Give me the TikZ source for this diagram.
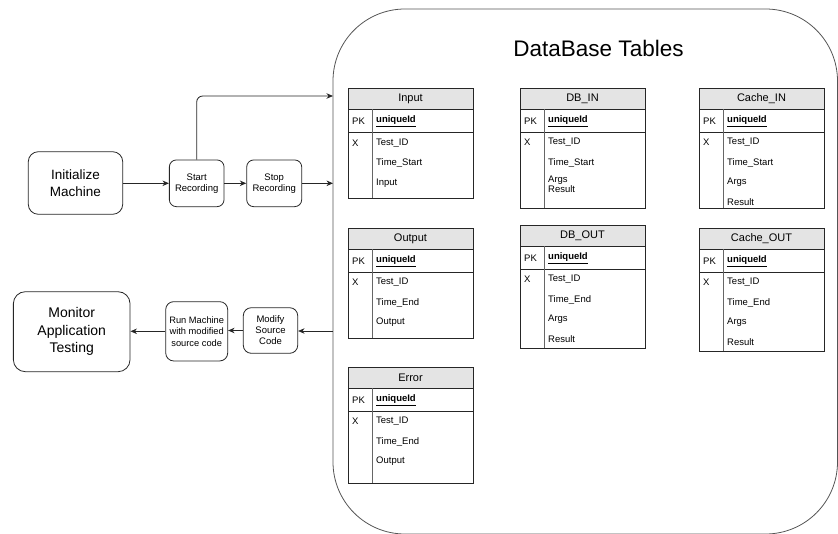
\documentclass[tikz,border=0pt]{standalone}
\usepackage{fontspec}
\setmainfont{Liberation Sans}
\usetikzlibrary{arrows.meta}
\definecolor{hdr}{HTML}{E4E4E4}
\definecolor{frm}{HTML}{555555}
\tikzset{
  proc/.style={draw=black!85, line width=0.8pt, align=center, inner sep=0pt},
  arr/.style={draw=black!85, line width=0.8pt, -{Stealth[length=6.5pt,width=5.5pt]}},
  tline/.style={draw=black!85, line width=0.8pt},
  txt/.style={inner sep=0pt, anchor=west, font=\fontsize{9.5}{10.5}\selectfont},
}
\newcommand\dbtab[6]{%
  \fill[hdr] (#3,#4) rectangle ++(125,21);
  \draw[tline] (#3,#4) rectangle ++(125,#5);
  \draw[tline] (#3,#4+21) -- ++(125,0);
  \draw[tline] (#3,#4+44.5) -- ++(125,0);
  \draw[draw=black!60, line width=0.8pt] (#3+24,#4+21) -- (#3+24,#4+#5);
  \node[inner sep=0pt, font=\fontsize{11}{12}\selectfont] (#1-t) at (#3+62.5,#4+11) {#2};
  \node[txt] (#1-pk) at (#3+4,#4+33) {PK};
  \node[txt] (#1-u) at (#3+28,#4+33) {\underline{\textbf{uniqueId}}};
  \node[txt] (#1-x) at (#3+4,#4+54.5) {X};
  \foreach \f [count=\i from 0] in {#6} {
    \node[txt] (#1-f\i) at (#3+28,#4+54.5+20*\i) {\f};
  }%
}
\begin{document}
\begin{tikzpicture}[x=1pt,y=-1pt]
\useasboundingbox (0,0) rectangle (838,533);

% big database frame
\node[draw=frm, line width=0.8pt, rounded corners=72pt, minimum width=504.5pt, minimum height=525pt, inner sep=0pt] (db) at (585.25,271.5) {};
\node[inner sep=0pt, font=\fontsize{22.5}{26}\selectfont] (title) at (598.5,48) {DataBase Tables};

% left flow
\node[proc, rounded corners=10pt, minimum width=94.4pt, minimum height=62.6pt, font=\fontsize{13.5}{17}\selectfont] (init) at (75.5,183) {Initialize\\Machine};
\node[proc, rounded corners=7pt, minimum width=54.7pt, minimum height=46.7pt, font=\fontsize{9.5}{11}\selectfont] (start) at (196.7,183.3) {Start\\Recording};
\node[proc, rounded corners=7pt, minimum width=55pt, minimum height=46.7pt, font=\fontsize{9.5}{11}\selectfont] (stop) at (274.2,183.3) {Stop\\Recording};
\node[proc, rounded corners=12pt, minimum width=116.7pt, minimum height=80pt, font=\fontsize{14}{17.5}\selectfont] (monitor) at (71.7,331.7) {Monitor\\Application\\Testing};
\node[proc, rounded corners=8pt, minimum width=62pt, minimum height=59.3pt, font=\fontsize{9.3}{11.5}\selectfont] (run) at (196.7,331.3) {Run Machine\\with modified\\source code};
\node[proc, rounded corners=8pt, minimum width=54.4pt, minimum height=45.6pt, font=\fontsize{9.5}{11}\selectfont] (modify) at (270.5,330.5) {Modify\\Source\\Code};

\coordinate (dbtop) at (333,96);
\coordinate (dbmid) at (333,183.3);
\coordinate (dbout) at (333,331);

\draw[arr] (init.east |- start.west) -- (start.west);
\draw[arr] (start) -- (stop);
\draw[arr] (stop.east) -- (dbmid);
\draw[arr, rounded corners=6pt] (start.north) |- (dbtop);
\draw[arr] (dbout) -- (modify.east |- dbout);
\draw[arr] (modify.west) -- (run.east |- modify.west);
\draw[arr] (run.west) -- (monitor.east |- run.west);

% tables
\dbtab{input}{Input}{348}{88.3}{110}{Test\_ID,Time\_Start,Input}
\dbtab{output}{Output}{348}{228}{110}{Test\_ID,Time\_End,Output}
\dbtab{error}{Error}{348}{367}{116}{Test\_ID,Time\_End,Output}
\dbtab{dbin}{DB\_IN}{520}{88}{120}{Test\_ID,Time\_Start}
\node[txt, align=left, anchor=north west] (dbin-ar) at (548,175.5) {Args\\Result};
\dbtab{dbout}{DB\_OUT}{520}{225}{123}{Test\_ID,Time\_End,Args,Result}
\dbtab{cachein}{Cache\_IN}{699}{88}{120}{Test\_ID,Time\_Start,Args,Result}
\dbtab{cacheout}{Cache\_OUT}{699}{228}{123}{Test\_ID,Time\_End,Args,Result}
\end{tikzpicture}
\end{document}
